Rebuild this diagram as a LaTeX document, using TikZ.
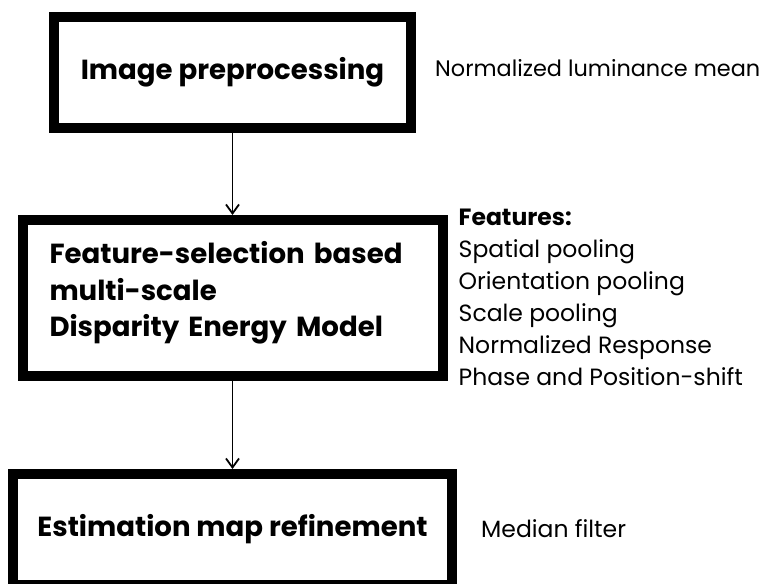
\documentclass[tikz,border=0pt]{standalone}
\usepackage{fontspec}
\setmainfont{Poppins}
\usetikzlibrary{arrows.meta, positioning, calc}
\tikzset{
    stage/.style={rectangle, draw=black, line width=10pt, fill=white,
        inner sep=0pt, font=\bfseries\fontsize{27.6}{36.5}\selectfont},
    note/.style={inner sep=0pt, anchor=base west, align=left,
        font=\fontsize{23.5}{32}\selectfont},
    arrow/.style={-{Straight Barb[length=9pt,width=13pt]}, line width=1.8pt}
}

\begin{document}
\begin{tikzpicture}[x=1pt, y=-1pt, node distance=82pt]

    \useasboundingbox (0,0) rectangle (767,583);
    \clip (0,0) rectangle (767,583);

    % processing stages
    \node[stage, minimum width=357pt, minimum height=111pt] (prep) at (232.5,72.5) {Image preprocessing};
    \node[stage, minimum width=420pt, minimum height=156pt, text width=366pt,
        align=left, below=of prep] (dem)
        {Feature-selection based\\multi-scale\\Disparity Energy Model\\[-19pt]\mbox{}};
    \node[stage, minimum width=439pt, minimum height=111pt, below=88pt of dem] (refine) {Estimation map refinement};

    % side notes
    \node[note, font=\fontsize{22.4}{32}\selectfont] (lum) at ($(prep.north east)+(19pt,-65pt)$) {Normalized luminance mean};
    \node[note] (feat) at ($(dem.south east)+(11pt,-4pt)$)
        {\textbf{Features:}\\Spatial pooling\\Orientation pooling\\Scale pooling\\Normalized Response\\Phase and Position-shift};
    \node[note] (median) at ($(refine.east)+(24pt,-7.5pt)$) {Median filter};

    \draw[arrow] (prep) -- (dem);
    \draw[arrow] (dem) -- (refine);

\end{tikzpicture}
\end{document}
